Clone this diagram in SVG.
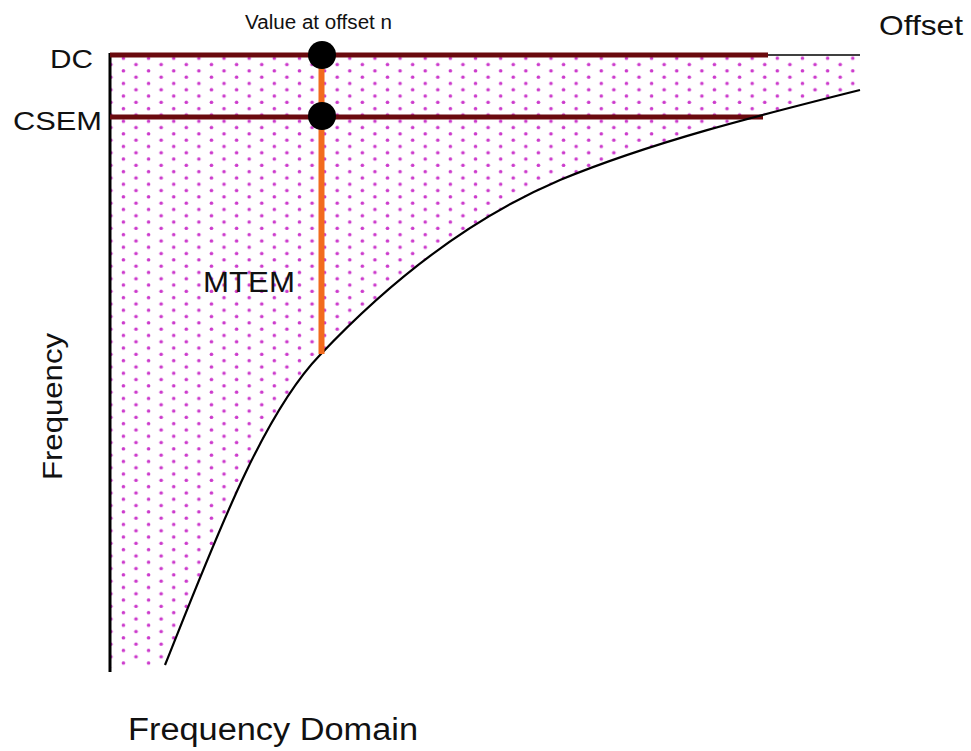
<svg xmlns="http://www.w3.org/2000/svg" width="971" height="751" viewBox="0 0 971 751">
<style>
  .lbl { font-family: "Liberation Sans", Arial, sans-serif; fill: #111; }
  .axis { stroke: #000; stroke-width: 3; fill: none; }
  .band { stroke: #6a0a0e; stroke-width: 5; fill: none; }
  .thin { stroke: #000; stroke-width: 1.5; fill: none; }
  .curve { stroke: #000; stroke-width: 2.2; fill: none; }
  .mtem { stroke: #f26b1d; stroke-width: 6; fill: none; }
  .dot { fill: #000; }
</style>
<defs>
  <pattern id="dots" patternUnits="userSpaceOnUse" x="3.96" y="-1.65" width="25.15" height="12.6">
    <circle cx="6.2875" cy="3.15" r="1.8" fill="#cc3acc"/>
    <circle cx="18.8625" cy="9.45" r="1.8" fill="#cc3acc"/>
  </pattern>
</defs>
<rect width="971" height="751" fill="#fff"/>
<g id="region">
  <path d="M110,55 H860 V90 C760,115 652,142 560,180 C452,226 372,300 320,355 C262,415 215,540 165,665 L110,668 Z" fill="url(#dots)"/>
</g>
<g id="connectors">
  <line class="axis" x1="110" y1="53" x2="110" y2="672"/>
  <line class="thin" x1="765" y1="55" x2="860" y2="55"/>
  <line class="band" x1="110" y1="55" x2="768" y2="55"/>
  <line class="band" x1="110" y1="117" x2="763" y2="117"/>
  <path class="curve" d="M165,665 C215,540 262,415 320,355 C372,300 452,226 560,180 C652,142 760,115 860,90"/>
  <line class="mtem" x1="321.5" y1="55" x2="321.5" y2="354"/>
</g>
<g id="dc-point"><circle class="dot" cx="322" cy="55" r="14"/></g>
<g id="csem-point"><circle class="dot" cx="322" cy="116" r="14"/></g>
<g id="labels">
  <text class="lbl" x="245" y="29" font-size="20" textLength="147" lengthAdjust="spacingAndGlyphs">Value at offset n</text>
  <text class="lbl" x="879" y="35" font-size="28" textLength="84" lengthAdjust="spacingAndGlyphs">Offset</text>
  <text class="lbl" x="50" y="68" font-size="26" textLength="43" lengthAdjust="spacingAndGlyphs">DC</text>
  <text class="lbl" x="13" y="130" font-size="26" textLength="89" lengthAdjust="spacingAndGlyphs">CSEM</text>
  <text class="lbl" x="203" y="292" font-size="29" textLength="92" lengthAdjust="spacingAndGlyphs">MTEM</text>
  <text class="lbl" transform="translate(62,480) rotate(-90)" font-size="28" textLength="147" lengthAdjust="spacingAndGlyphs">Frequency</text>
  <text class="lbl" x="128" y="740" font-size="31" textLength="290" lengthAdjust="spacingAndGlyphs">Frequency Domain</text>
</g>
</svg>
